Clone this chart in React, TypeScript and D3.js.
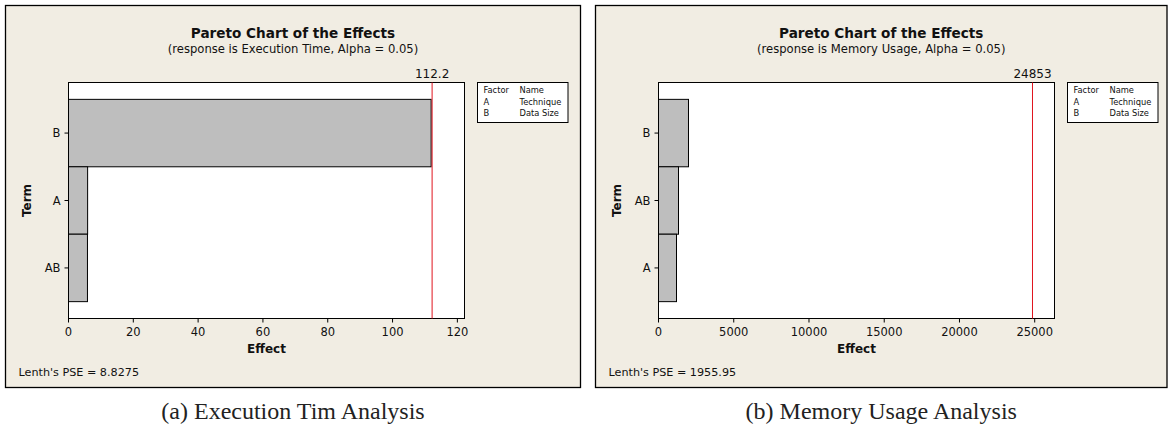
import React from 'react';
import * as d3 from 'd3';

// values
const termsTime = ['B', 'A', 'AB'];
const effectsTime = [111.9, 5.9, 5.85];
const termsMemory = ['B', 'AB', 'A'];
const effectsMemory = [1993, 1329, 1196];

const factorCodes = ['A', 'B'];
const factorNames = ['Technique', 'Data Size'];

const UI = 'Tahoma, "DejaVu Sans", Verdana, sans-serif';

type PanelProps = {
    x: number;
    width: number;
    subtitle: string;
    terms: string[];
    effects: number[];
    xMax: number;
    refValue: number;
    refLabel: string;
    pse: string;
    caption: string;
};

function Panel(props: PanelProps) {
    const { x, width, subtitle, terms, effects, xMax, refValue, refLabel, pse, caption } = props;
    const top = 5.5;
    const height = 382;
    const plot = { left: 63, top: 77, width: 396, height: 236 };

    const xs = d3.scaleLinear()
        .domain([0, xMax])
        .range([plot.left, plot.left + plot.width]);

    const ys = d3.scaleBand<string>()
        .domain(terms)
        .range([plot.top, plot.top + plot.height])
        .paddingInner(0)
        .paddingOuter(0.25);

    const ticks = xs.ticks(6);
    const mid = width / 2;
    const plotMid = plot.left + plot.width / 2;
    const bottom = plot.top + plot.height;

    return (
        <g transform={`translate(${x}, ${top})`}>
            <rect x={0} y={0} width={width} height={height} fill="#f1ede3" stroke="#000" strokeWidth={1.3} />
            <text x={mid} y={32} textAnchor="middle" fontFamily={UI} fontWeight="bold" fontSize={13.6} fill="#111">
                Pareto Chart of the Effects
            </text>
            <text x={mid} y={47} textAnchor="middle" fontFamily={UI} fontSize={11.6} fill="#111">
                {subtitle}
            </text>

            <rect x={plot.left} y={plot.top} width={plot.width} height={plot.height} fill="#fff" stroke="#000" strokeWidth={1} />

            {terms.map((t, i) => (
                <rect key={t}
                    x={xs(0)}
                    y={ys(t)}
                    width={xs(effects[i]) - xs(0)}
                    height={ys.bandwidth()}
                    fill="#bebebe"
                    stroke="#000"
                    strokeWidth={1} />
            ))}

            <line x1={xs(refValue)} x2={xs(refValue)} y1={plot.top} y2={bottom} stroke="#e0141e" strokeWidth={1} />
            <text x={xs(refValue)} y={72} textAnchor="middle" fontFamily={UI} fontSize={12} fill="#111">
                {refLabel}
            </text>

            {terms.map(t => {
                const cy = (ys(t) as number) + ys.bandwidth() / 2;
                return (
                    <g key={t}>
                        <line x1={plot.left - 4} x2={plot.left} y1={cy} y2={cy} stroke="#000" />
                        <text x={plot.left - 8} y={cy + 4} textAnchor="end" fontFamily={UI} fontSize={11.5} fill="#111">{t}</text>
                    </g>
                );
            })}

            {ticks.map(v => (
                <g key={v}>
                    <line x1={xs(v)} x2={xs(v)} y1={bottom} y2={bottom + 4} stroke="#000" />
                    <text x={xs(v)} y={bottom + 17} textAnchor="middle" fontFamily={UI} fontSize={11.5} fill="#111">{v}</text>
                </g>
            ))}

            <text x={plotMid} y={bottom + 34} textAnchor="middle" fontFamily={UI} fontWeight="bold" fontSize={12} fill="#111">
                Effect
            </text>
            <text transform={`translate(${25}, ${(plot.top + bottom) / 2}) rotate(-90)`} textAnchor="middle"
                fontFamily={UI} fontWeight="bold" fontSize={12} fill="#111">
                Term
            </text>

            <text x={13} y={370} fontFamily={UI} fontSize={11.2} fill="#111">{pse}</text>

            <g transform={`translate(${472}, ${77})`}>
                <rect x={0} y={0} width={90.5} height={40} fill="#fff" stroke="#000" strokeWidth={1} />
                <text x={6} y={10.5} fontFamily={UI} fontSize={8.3} fill="#111">Factor</text>
                <text x={42} y={10.5} fontFamily={UI} fontSize={8.3} fill="#111">Name</text>
                {factorCodes.map((c, i) => (
                    <g key={c}>
                        <text x={6} y={22.3 + i * 11.5} fontFamily={UI} fontSize={8.3} fill="#111">{c}</text>
                        <text x={42} y={22.3 + i * 11.5} fontFamily={UI} fontSize={8.3} fill="#111">{factorNames[i]}</text>
                    </g>
                ))}
            </g>

            <text x={mid} y={height + 31} textAnchor="middle" fontFamily='"Liberation Serif", "Times New Roman", serif'
                fontSize={24} fill="#222">
                {caption}
            </text>
        </g>
    );
}

export default function App() {
    return (
        <div style={{ position: 'absolute', left: 0, top: 0 }}>
            <svg width={1171} height={427} style={{ display: 'block', background: '#fff' }}>
                <Panel x={5.5} width={575} subtitle="(response is Execution Time, Alpha = 0.05)"
                    terms={termsTime} effects={effectsTime} xMax={122.2}
                    refValue={112.2} refLabel="112.2" pse="Lenth's PSE = 8.8275"
                    caption="(a) Execution Tim Analysis" />
                <Panel x={595.5} width={571.5} subtitle="(response is Memory Usage, Alpha = 0.05)"
                    terms={termsMemory} effects={effectsMemory} xMax={26315}
                    refValue={24853} refLabel="24853" pse="Lenth's PSE = 1955.95"
                    caption="(b) Memory Usage Analysis" />
            </svg>
        </div>
    );
}
